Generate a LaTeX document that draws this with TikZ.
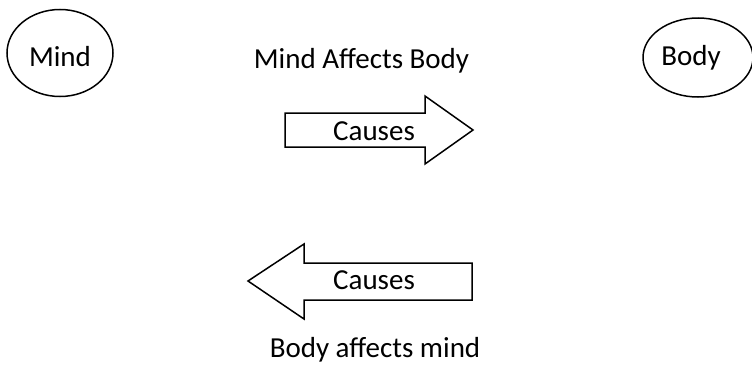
\documentclass[tikz,border=0pt]{standalone}
\usepackage{fontspec}
\setmainfont{Carlito}
\usetikzlibrary{shapes.geometric}
\tikzset{
  blob/.style={ellipse, draw, line width=1.5pt, inner sep=0pt},
  bigarrow/.style={draw, line width=1.5pt, line join=miter},
  caption/.style={anchor=base, inner sep=0pt, font=\fontsize{29}{35}\selectfont}
}

\begin{document}
\begin{tikzpicture}[x=1pt,y=-1pt]
  \clip (0,0) rectangle (752,364);
  \useasboundingbox (0,0) rectangle (752,364);

  % the two ellipses
  \node[blob, minimum width=106pt, minimum height=87pt] (mind) at (60,53) {};
  \node[caption] (mindtxt) at (60,66) {Mind};
  \node[blob, minimum width=110pt, minimum height=79pt] (body) at (698,57.5) {};
  \node[caption] (bodytxt) at (691,65) {Body};

  % mind -> body
  \node[caption] (toptitle) at (361.5,68) {Mind Affects Body};
  \draw[bigarrow] (285,113) -- (425,113) -- (425,96) -- (473,130)
    -- (425,164) -- (425,147) -- (285,147) -- cycle;
  \node[caption] (rightcause) at (374,140.5) {Causes};

  % body -> mind
  \draw[bigarrow] (472,263) -- (304,263) -- (304,244) -- (248,281)
    -- (304,319) -- (304,300) -- (472,300) -- cycle;
  \node[caption] (leftcause) at (374,289) {Causes};
  \node[caption] (bottomtitle) at (375,357) {Body affects mind};
\end{tikzpicture}
\end{document}
